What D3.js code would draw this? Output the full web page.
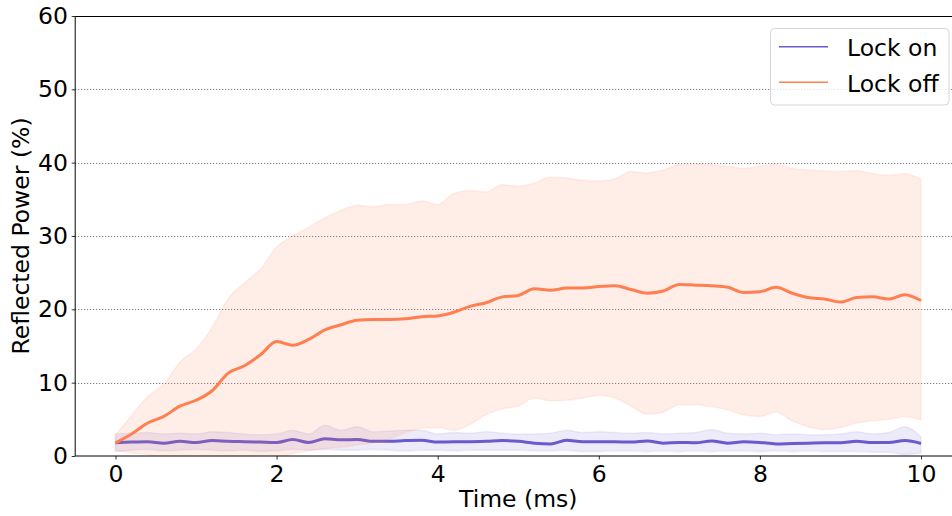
<!DOCTYPE html>
<html>
<head>
<meta charset="utf-8">
<script src="https://cdn.jsdelivr.net/npm/d3@7"></script>
<style>
  html, body { margin: 0; padding: 0; background: #fff; }
  svg { display: block; font-family: "DejaVu Sans", sans-serif; }
</style>
</head>
<body>
<svg id="chart" width="952" height="516"></svg>
<script>
// ---------------- data ----------------
const time = [0,0.2,0.4,0.6,0.8,1.0,1.2,1.4,1.6,1.8,2.0,2.2,2.4,2.6,2.8,3.0,3.2,3.4,3.6,3.8,4.0,4.2,4.4,4.6,4.8,5.0,5.2,5.4,5.6,5.8,6.0,6.2,6.4,6.6,6.8,7.0,7.2,7.4,7.6,7.8,8.0,8.2,8.4,8.6,8.8,9.0,9.2,9.4,9.6,9.8,10.0];

const lockOffMean = [1.8,3.0,4.5,5.4,6.8,7.6,8.9,11.3,12.3,13.8,15.6,15.1,15.9,17.2,17.9,18.5,18.6,18.6,18.7,19.0,19.1,19.6,20.4,20.9,21.7,21.9,22.8,22.6,22.9,22.9,23.1,23.2,22.7,22.2,22.5,23.4,23.3,23.2,23.0,22.3,22.4,23.0,22.2,21.6,21.4,21.0,21.6,21.7,21.4,22.0,21.2];
const lockOffUpper = [2.9,5.5,8.1,9.8,12.8,14.6,17.5,21.5,23.6,25.5,28.5,30.0,31.2,32.5,33.5,34.2,34.0,34.3,34.3,34.8,34.3,35.8,36.2,36.0,37.0,36.8,37.2,38.0,37.9,37.6,37.5,37.8,38.8,38.6,39.0,39.7,39.8,39.7,39.5,39.2,39.5,39.8,39.2,39.0,38.9,38.8,38.9,38.5,38.3,38.5,37.7];
const lockOffLower = [0.8,0.4,0.2,-0.3,-0.6,-0.8,-1.0,-1.0,-0.8,-0.5,-0.2,0.3,0.7,1.0,1.2,1.5,1.8,2.3,3.2,3.8,3.9,3.5,4.3,5.6,6.4,6.8,7.9,7.5,7.6,7.9,8.3,7.9,6.8,5.7,6.0,7.0,7.0,6.7,6.3,5.6,5.4,6.0,4.8,4.0,3.6,3.9,4.5,4.8,5.0,5.4,4.9];

const lockOnMean = [1.8,1.9,1.95,1.75,2.0,1.85,2.1,2.0,1.95,1.9,1.85,2.25,1.85,2.35,2.2,2.25,2.0,2.0,2.1,2.15,1.9,1.95,1.95,2.0,2.1,2.0,1.75,1.65,2.15,1.95,1.95,1.95,1.9,2.05,1.75,1.85,1.8,2.05,1.75,1.95,1.85,1.65,1.7,1.75,1.8,1.8,2.0,1.85,1.85,2.1,1.7];
const lockOnUpper = [3.0,3.1,3.2,3.0,3.1,3.0,3.3,3.2,3.0,2.9,3.0,3.5,3.0,4.2,3.5,4.0,3.3,3.4,3.5,3.5,3.0,3.2,3.1,3.3,3.1,3.0,3.0,3.1,3.5,3.2,3.3,3.2,3.1,3.2,3.0,3.1,3.2,3.6,3.1,3.0,3.1,2.9,3.0,2.9,2.9,3.0,3.3,3.0,3.2,4.0,2.6];
const lockOnLower = [0.6,0.8,0.9,0.7,0.8,0.9,0.8,0.7,0.8,0.6,0.7,0.9,0.8,0.9,0.8,0.8,0.9,0.8,0.7,0.8,0.8,0.7,0.8,0.8,0.8,0.8,0.7,0.7,0.8,0.6,0.6,0.7,0.7,0.6,0.7,0.6,0.7,0.6,0.7,0.7,0.6,0.7,0.6,0.7,0.6,0.6,0.6,0.5,0.5,0.2,0.4];

const xTicks = [0,2,4,6,8,10];
const yTicks = [0,10,20,30,40,50,60];
const yGrid = [10,20,30,40,50];
const seriesNames = ["Lock on","Lock off"];
const seriesColors = ["#6a5acd","#ff7f50"];

// ---------------- layout ----------------
const svg = d3.select("#chart");
const pLeft = 75.2, pRight = 961.3, pTop = 16, pBottom = 456;
const FS = 23.5;
const x = d3.scaleLinear().domain([-0.5, 10.5]).range([pLeft, pRight]);
const y = d3.scaleLinear().domain([0, 60]).range([pBottom, pTop]);

svg.append("defs").append("clipPath").attr("id","plotclip")
  .append("rect").attr("x", pLeft).attr("y", pTop).attr("width", pRight-pLeft).attr("height", pBottom-pTop);

// grid
svg.append("g").selectAll("line").data(yGrid).join("line")
  .attr("x1", pLeft).attr("x2", pRight)
  .attr("y1", d => Math.round(y(d)) + 0.5).attr("y2", d => Math.round(y(d)) + 0.5)
  .attr("stroke", "#555").attr("stroke-width", 0.9).attr("stroke-dasharray", "1,2");

const plot = svg.append("g").attr("clip-path", "url(#plotclip)");

function band(upper, lower, color, op) {
  const data = time.map((t,i) => ({t, u: upper[i], l: lower[i]}));
  const area = d3.area().x(d => x(d.t)).y0(d => y(d.l)).y1(d => y(d.u)).curve(d3.curveMonotoneX);
  plot.append("path").datum(data).attr("d", area)
    .attr("fill", color).attr("fill-opacity", op)
    .attr("stroke", color).attr("stroke-opacity", op*0.8).attr("stroke-width", 1.5);
}
function meanLine(vals, color) {
  const data = time.map((t,i) => ({t, v: vals[i]}));
  const line = d3.line().x(d => x(d.t)).y(d => y(d.v)).curve(d3.curveMonotoneX);
  plot.append("path").datum(data).attr("d", line)
    .attr("fill", "none").attr("stroke", color).attr("stroke-width", 3);
}

band(lockOnUpper, lockOnLower, seriesColors[0], 0.12);
meanLine(lockOnMean, seriesColors[0]);
band(lockOffUpper, lockOffLower, seriesColors[1], 0.13);
meanLine(lockOffMean, seriesColors[1]);

// spines
svg.append("line").attr("x1", pLeft).attr("x2", pLeft).attr("y1", pTop).attr("y2", pBottom).attr("stroke", "#000").attr("stroke-width", 1);
svg.append("line").attr("x1", pLeft).attr("x2", pRight).attr("y1", pBottom).attr("y2", pBottom).attr("stroke", "#000").attr("stroke-width", 1);
svg.append("line").attr("x1", pLeft).attr("x2", pRight).attr("y1", pTop+0.5).attr("y2", pTop+0.5).attr("stroke", "#000").attr("stroke-width", 1);

// axes
const xAxis = d3.axisBottom(x).tickValues(xTicks).tickSize(3.5).tickPadding(6).tickFormat(d3.format("d"));
const gx = svg.append("g").attr("transform", `translate(0,${pBottom})`).call(xAxis);
gx.select(".domain").remove();
gx.selectAll("text").attr("font-size", FS).attr("font-family", "DejaVu Sans").attr("fill", "#000");
gx.selectAll("line").attr("stroke", "#000").attr("stroke-width", 0.8);

const yAxis = d3.axisLeft(y).tickValues(yTicks).tickSize(3.5).tickPadding(3.7).tickFormat(d3.format("d"));
const gy = svg.append("g").attr("transform", `translate(${pLeft},0)`).call(yAxis);
gy.select(".domain").remove();
gy.selectAll("text").attr("font-size", FS).attr("font-family", "DejaVu Sans").attr("fill", "#000");
gy.selectAll("line").attr("stroke", "#000").attr("stroke-width", 0.8);

// axis labels
svg.append("text").attr("x", (pLeft+pRight)/2).attr("y", 507).attr("text-anchor", "middle")
  .attr("font-size", FS).attr("fill", "#000").text("Time (ms)");
svg.append("text").attr("transform", `translate(29,${(pTop+pBottom)/2}) rotate(-90)`).attr("text-anchor", "middle")
  .attr("font-size", FS).attr("fill", "#000").text("Reflected Power (%)");

// legend
const lg = svg.append("g");
lg.append("rect").attr("x", 770.5).attr("y", 28.5).attr("width", 178.5).attr("height", 76.5).attr("rx", 4)
  .attr("fill", "#fff").attr("fill-opacity", 0.8).attr("stroke", "#d6d6d6").attr("stroke-width", 1);
seriesNames.forEach((name, i) => {
  const yy = 46.7 + i*35.6;
  lg.append("line").attr("x1", 779).attr("x2", 828).attr("y1", yy).attr("y2", yy)
    .attr("stroke", seriesColors[i]).attr("stroke-width", 1.5);
  lg.append("text").attr("x", 847).attr("y", yy + 9.3).attr("font-size", FS).attr("fill", "#000").text(name);
});
</script>
</body>
</html>
